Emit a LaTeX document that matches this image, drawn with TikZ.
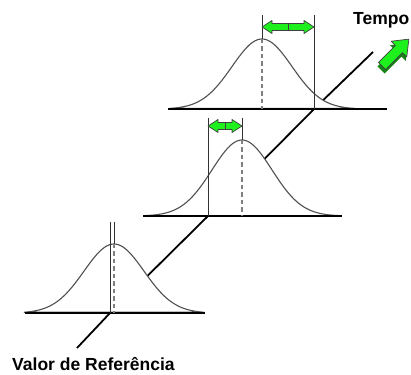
\documentclass[tikz,border=0pt]{standalone}
\usepackage{fontspec}
\setmainfont{Liberation Sans}
\usepackage{tikz}
\usepackage{xcolor}
\definecolor{arrowgreen}{RGB}{30,240,30}
\definecolor{arrowdark}{RGB}{20,130,20}
\definecolor{curvegray}{RGB}{80,80,80}

% fat green double arrow between x1 and x2 at height y
\newcommand{\shiftarrow}[3]{%
  \draw[shift arrow] (#1,#3) -- ({#1+10},{#3+6.5}) -- ({#1+10},{#3+3.5})
    -- ({#2-10},{#3+3.5}) -- ({#2-10},{#3+6.5}) -- (#2,#3)
    -- ({#2-10},{#3-6.5}) -- ({#2-10},{#3-3.5}) -- ({#1+10},{#3-3.5})
    -- ({#1+10},{#3-6.5}) -- cycle;
  \draw[black!75, line width=0.7pt] ({(#1+#2)/2},{#3-3.5}) -- ({(#1+#2)/2},{#3+3.5});}

\begin{document}
\begin{tikzpicture}[x=1pt, y=1pt,
    curve/.style={curvegray, line width=1.1pt, fill=white},
    base/.style={black, line width=1.4pt},
    refline/.style={black!80, line width=1pt},
    meanline/.style={gray, dash pattern=on 4.5pt off 3pt, line width=1.2pt},
    shift arrow/.style={fill=arrowgreen, draw=black!75, line width=0.7pt, line join=round},
    label/.style={font=\fontsize{17.5}{20}\selectfont\bfseries, inner sep=0pt}]
    \useasboundingbox (0,0) rectangle (411,374);

    % reference points on the time axis
    \coordinate (start) at (77,26);
    \coordinate (r1) at (110,61);
    \coordinate (r2) at (208,158);
    \coordinate (r3) at (314,265);
    \coordinate (end) at (373,322);
    \draw[black, line width=1.8pt] (start) -- (r1) -- (r2) -- (r3) -- (end);

    % first distribution
    \draw[curve] plot[domain=24:204, samples=90, smooth] (\x, {61+69*exp(-(\x-114)*(\x-114)/1800)}) -- cycle;
    \draw[base] (25,61) -- (205,61);
    \draw[refline] (110,152) -- (r1);
    \draw[refline] (114,152) -- (114,130);
    \draw[meanline] (114,130) -- (114,61);

    % second distribution
    \draw[curve] plot[domain=145:339, samples=90, smooth] (\x, {158+76*exp(-(\x-242)*(\x-242)/1800)}) -- cycle;
    \draw[base] (143,158) -- (342,158);
    \draw[refline] (208,256) -- (r2);
    \draw[refline] (242,256) -- (242,234);
    \draw[meanline] (242,234) -- (242,158);
    \shiftarrow{208}{242}{248}

    % third distribution
    \draw[curve] plot[domain=170:355, samples=90, smooth] (\x, {265+70*exp(-(\x-262)*(\x-262)/1800)}) -- cycle;
    \draw[base] (168,265) -- (387,265);
    \draw[refline] (314,359) -- (r3);
    \draw[refline] (262,359) -- (262,335);
    \draw[meanline] (262,335) -- (262,265);
    \shiftarrow{262}{314}{347}

    % time arrow
    \begin{scope}[shift={(381,304)}, rotate=45]
        \fill[arrowdark] (0,-5) -- (24,-5) -- (24,-11) -- (38,0) -- (24,11) -- (24,5) -- (0,5) -- cycle;
    \end{scope}
    \begin{scope}[shift={(382,308)}, rotate=45]
        \draw[shift arrow] (0,-5) -- (24,-5) -- (24,-11) -- (38,0) -- (24,11) -- (24,5) -- (0,5) -- cycle;
    \end{scope}

    \node[label, anchor=base west] (valor) at (12,4) {Valor de Referência};
    \node[label, anchor=base west] (tempo) at (353,349) {Tempo};
\end{tikzpicture}
\end{document}
